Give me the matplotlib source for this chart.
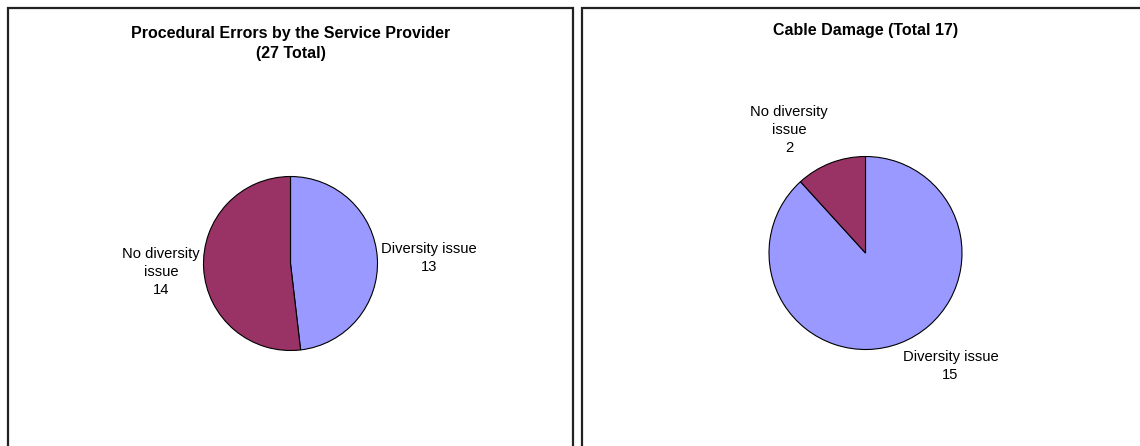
import matplotlib.pyplot as plt
from matplotlib.patches import Rectangle

plt.rcParams['font.family'] = ['Liberation Sans', 'DejaVu Sans']

# data
categories = ['Diversity issue', 'No diversity issue']
procedural_counts = [13, 14]
cable_counts = [15, 2]
colors = ['#9999FF', '#993366']

procedural_labels = ['Diversity issue\n13', 'No diversity\nissue\n14']
cable_labels = ['Diversity issue\n15', 'No diversity\nissue\n2']

W, H = 1140, 446
fig = plt.figure(figsize=(W / 100, H / 100), dpi=100)
fig.patch.set_facecolor('white')


def px_axes(x0, y0, w, h):
    # axes from pixel box (top-left origin)
    return fig.add_axes([x0 / W, (H - y0 - h) / H, w / W, h / H])


# panel frames
for x0, x1 in [(7.5, 573), (582, W + 20)]:
    fig.add_artist(Rectangle((x0 / W, -0.1), (x1 - x0) / W, (H - 7.5) / H + 0.1,
                             transform=fig.transFigure, fill=False,
                             edgecolor='#222222', linewidth=1.6, clip_on=False))

# titles
fig.text(290.5 / W, 1 - 43.5 / H, 'Procedural Errors by the Service Provider\n(27 Total)',
         ha='center', va='center', fontsize=11.5, fontweight='bold', linespacing=1.45)
fig.text(865.5 / W, 1 - 31 / H, 'Cable Damage (Total 17)',
         ha='center', va='center', fontsize=11.5, fontweight='bold')


def draw_pie(ax, values, labels, label_pos):
    ax.pie(values, colors=colors, startangle=90, counterclock=False,
           wedgeprops=dict(edgecolor='black', linewidth=0.8))
    ax.set_xlim(-1, 1)
    ax.set_ylim(-1, 1)
    ax.set_aspect('equal')
    ax.axis('off')
    for txt, (x, y) in zip(labels, label_pos):
        ax.text(x, y, txt, ha='center', va='center', fontsize=10.6,
                linespacing=1.4, clip_on=False)


ax1 = px_axes(203.5, 176.5, 174, 174)
draw_pie(ax1, procedural_counts, procedural_labels, [(1.59, 0.066), (-1.49, -0.098)])

ax2 = px_axes(769, 156.5, 193, 193)
draw_pie(ax2, cable_counts, cable_labels, [(0.88, -1.17), (-0.79, 1.275)])

plt.savefig('out.png', dpi=100, facecolor='white')
plt.close()
